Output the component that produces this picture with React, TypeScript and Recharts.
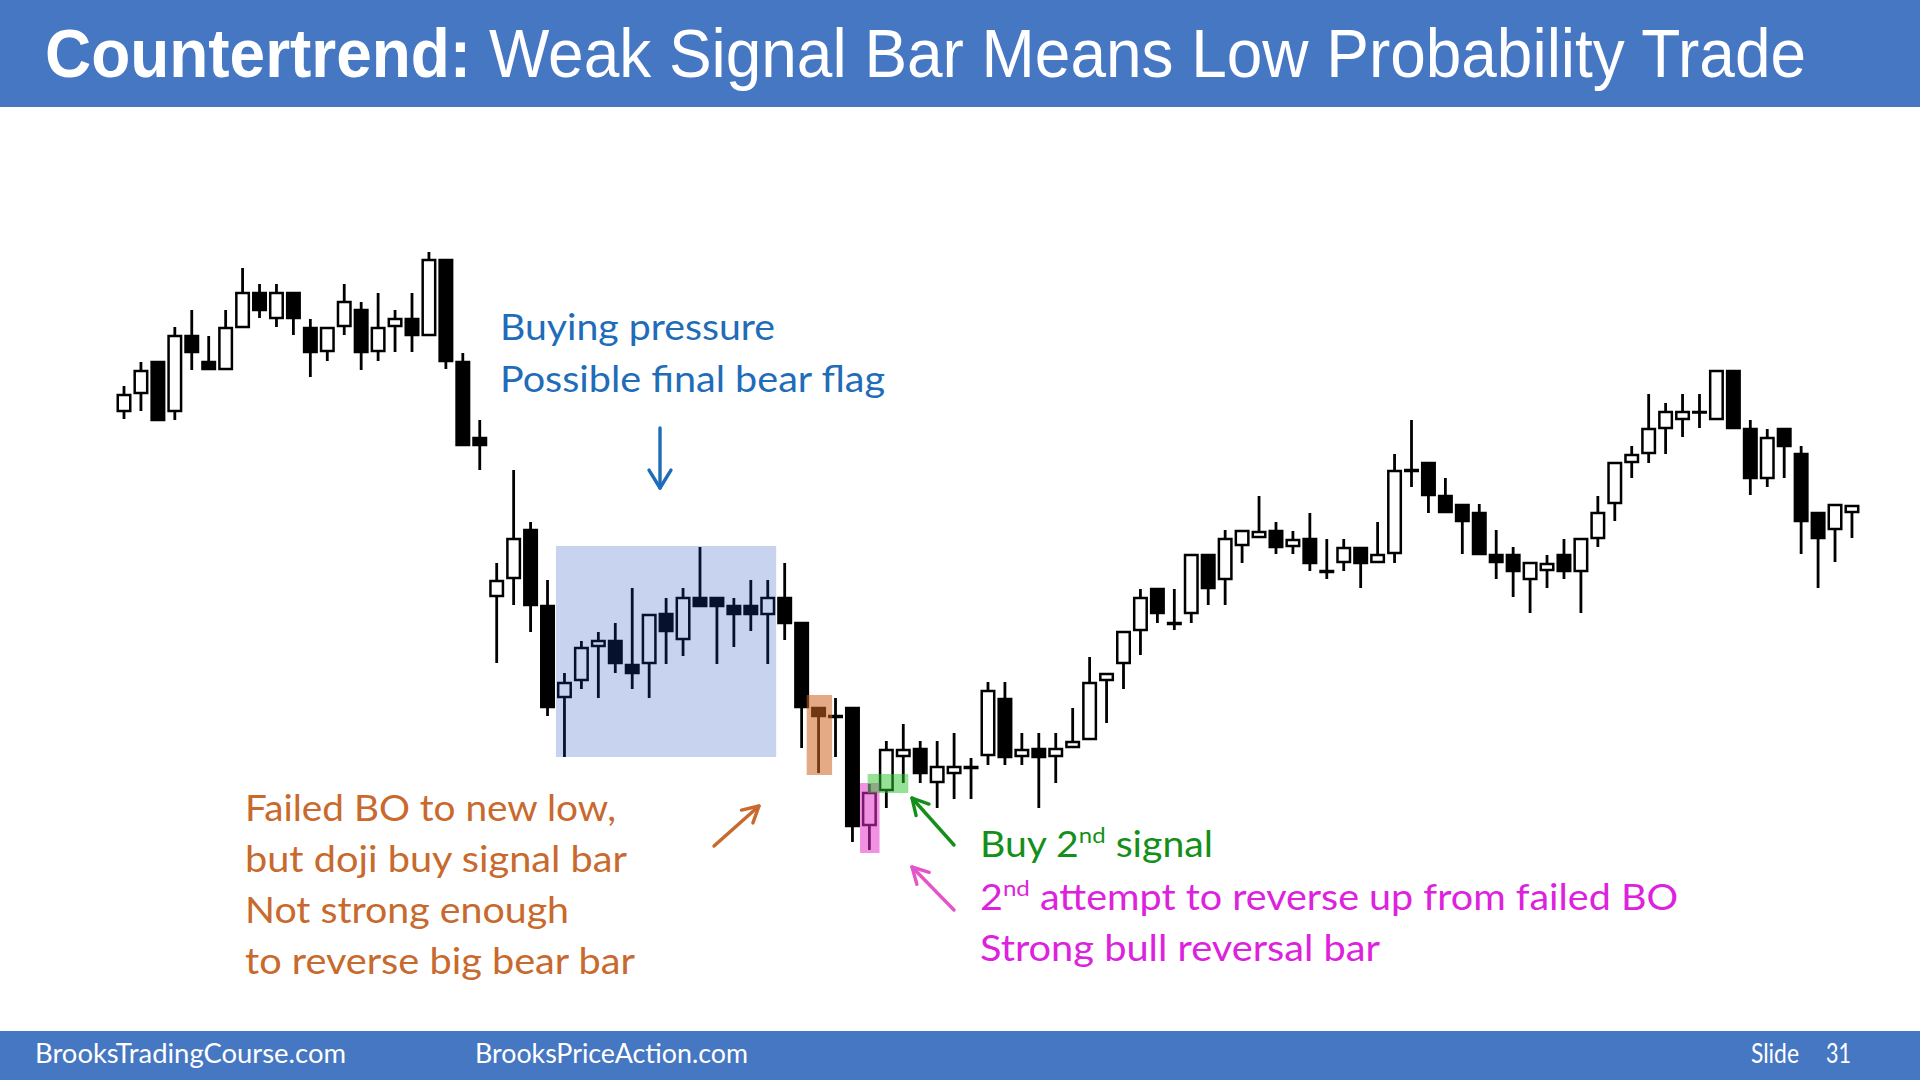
import { ComposedChart, Bar, XAxis, YAxis, ReferenceArea } from "recharts";

// OHLC, one entry per bar (bar 1 = far left)
const opens = [
  589, 607, 638, 589, 664, 638, 631, 673, 707, 682,
  707, 672, 649, 674, 690, 649, 674, 681, 665, 740,
  638, 562, 404, 422, 470, 394, 303, 320, 354, 359,
  335, 337, 386, 361, 402, 402, 394, 394, 386, 402,
  377, 292, 284, 292, 175, 210, 244, 251, 218, 227,
  232, 245, 301, 244, 251, 244, 253, 261, 320, 337,
  370, 411, 377, 387, 445, 421, 455, 463, 469, 454,
  461, 429, 438, 452, 438, 447, 529, 537, 504, 495,
  487, 445, 445, 421, 430, 445, 429, 462, 497, 538,
  547, 572, 581, 588, 581, 629, 571, 522, 571, 546,
  487, 471, 488,
];
const highs = [
  614, 638, 638, 673, 690, 664, 690, 732, 716, 716,
  707, 681, 672, 716, 698, 707, 690, 707, 748, 740,
  647, 580, 437, 530, 478, 420, 327, 359, 368, 377,
  412, 385, 402, 412, 453, 402, 402, 420, 420, 437,
  377, 292, 302, 292, 216, 259, 276, 259, 259, 267,
  242, 318, 318, 267, 267, 267, 292, 343, 326, 368,
  411, 411, 411, 445, 445, 470, 469, 504, 478, 469,
  487, 461, 461, 452, 478, 546, 580, 537, 522, 495,
  496, 470, 453, 437, 445, 461, 461, 504, 537, 554,
  606, 597, 606, 606, 629, 629, 580, 571, 571, 554,
  487, 495, 494,
];
const lows = [
  581, 589, 580, 580, 630, 631, 631, 673, 682, 673,
  665, 623, 639, 665, 630, 639, 648, 648, 665, 631,
  555, 530, 337, 395, 368, 284, 243, 311, 302, 327,
  311, 302, 336, 344, 394, 336, 353, 369, 336, 360,
  252, 227, 243, 158, 150, 192, 217, 217, 192, 201,
  201, 235, 235, 235, 192, 217, 253, 261, 277, 311,
  345, 377, 370, 377, 395, 395, 437, 463, 446, 446,
  429, 421, 429, 412, 438, 437, 513, 487, 488, 446,
  446, 421, 403, 387, 412, 421, 387, 453, 479, 522,
  537, 546, 563, 572, 581, 572, 505, 513, 522, 446,
  412, 438, 462,
];
const closes = [
  605, 629, 580, 664, 648, 631, 672, 707, 690, 707,
  682, 648, 672, 698, 648, 672, 681, 665, 740, 639,
  555, 555, 419, 461, 395, 293, 317, 352, 359, 337,
  327, 385, 369, 402, 394, 394, 386, 386, 402, 377,
  293, 284, 283, 174, 207, 250, 250, 227, 233, 233,
  233, 309, 243, 250, 243, 251, 258, 317, 326, 368,
  402, 387, 376, 445, 412, 461, 469, 468, 453, 460,
  437, 428, 452, 437, 445, 529, 530, 505, 488, 479,
  446, 438, 429, 437, 436, 429, 461, 487, 537, 545,
  571, 588, 588, 588, 629, 572, 522, 562, 554, 479,
  462, 495, 494,
];

const data = opens.map((o, k) => ({
  i: k + 1,
  o,
  h: highs[k],
  l: lows[k],
  c: closes[k],
}));

// highlight zones, in bar-index / price units
const zones = [
  { x1: 26.5, x2: 39.5, y1: 243, y2: 454, fill: "#1A45C0", opacity: 0.24 },
  { x1: 41.3, x2: 42.8, y1: 225, y2: 305, fill: "#CC6420", opacity: 0.55 },
  { x1: 44.45, x2: 45.6, y1: 147, y2: 217, fill: "#E22FC6", opacity: 0.53 },
  { x1: 44.9, x2: 47.3, y1: 207, y2: 226, fill: "#2CC42C", opacity: 0.5 },
];

const CandleShape = (props: any) => {
  const { x, y, width, height, payload } = props;
  if (!payload || height == null || isNaN(y)) return null;
  const top = Math.min(y, y + height);
  const span = Math.abs(height);
  const k = span / (payload.h - payload.l || 1);
  const cx = x + width / 2;
  const yo = top + (payload.h - payload.o) * k;
  const yc = top + (payload.h - payload.c) * k;
  const bull = payload.c >= payload.o;
  const bt = Math.min(yo, yc);
  const bh = Math.max(Math.abs(yo - yc), 0.5);
  return (
    <g>
      <line x1={cx} x2={cx} y1={top} y2={top + span} stroke="#000" strokeWidth={2.8} />
      <rect
        x={cx - 6.25}
        y={bt}
        width={12.5}
        height={bh}
        fill={bull ? "#fff" : "#000"}
        stroke="#000"
        strokeWidth={2.5}
      />
    </g>
  );
};

const Arrow = ({ x1, y1, x2, y2, color, len = 18, spread = 0.5 }: any) => {
  const a = Math.atan2(y2 - y1, x2 - x1);
  const w1 = [x2 - len * Math.cos(a - spread), y2 - len * Math.sin(a - spread)];
  const w2 = [x2 - len * Math.cos(a + spread), y2 - len * Math.sin(a + spread)];
  return (
    <g stroke={color} strokeWidth={3.4} fill="none" strokeLinecap="round" strokeLinejoin="round">
      <line x1={x1} y1={y1} x2={x2} y2={y2} />
      <polyline points={`${w1[0]},${w1[1]} ${x2},${y2} ${w2[0]},${w2[1]}`} />
    </g>
  );
};

const noteFont = "Lato, 'Open Sans', sans-serif";
const noteSize = 36;
const BLUE = "#1F6CB8";
const ORANGE = "#C8692D";
const GREEN = "#14901A";
const MAGENTA = "#DD22DD";

export default function App() {
  return (
    <div style={{ position: "absolute", left: 0, top: 0, width: 1920, height: 1080, background: "#fff", overflow: "hidden" }}>
      <div style={{ position: "absolute", left: 0, top: 0, width: 1920, height: 107, background: "#4677C2" }} />
      <div style={{ position: "absolute", left: 0, top: 1031, width: 1920, height: 49, background: "#4677C2" }} />

      <div style={{ position: "absolute", left: 0, top: 0 }}>
        <ComposedChart
          width={1920}
          height={1080}
          data={data}
          margin={{ top: 200, right: 59.6, bottom: 180, left: 115.5 }}
        >
          <XAxis dataKey="i" type="number" domain={[0.5, 103.5]} hide allowDataOverflow />
          <YAxis type="number" domain={[100, 800]} hide allowDataOverflow />
          <Bar
            dataKey={(d: any) => [d.l, d.h]}
            barSize={15}
            shape={(p: any) => <CandleShape {...p} />}
            isAnimationActive={false}
          />
          {zones.map((z, n) => (
            <ReferenceArea
              key={n}
              x1={z.x1}
              x2={z.x2}
              y1={z.y1}
              y2={z.y2}
              fill={z.fill}
              fillOpacity={z.opacity}
              stroke="none"
              zIndex={1000}
            />
          ))}
        </ComposedChart>
      </div>

      <svg
        width={1920}
        height={1080}
        style={{ position: "absolute", left: 0, top: 0, pointerEvents: "none" }}
      >
        <text
          x={45}
          y={77}
          fill="#fff"
          fontFamily="'Liberation Sans', Arial, sans-serif"
          fontSize={68}
          textLength={1761}
          lengthAdjust="spacingAndGlyphs"
        >
          <tspan fontWeight="bold">Countertrend:</tspan> Weak Signal Bar Means Low Probability Trade
        </text>

        <g fill="#fff" fontFamily={noteFont} fontSize={26}>
          <text x={35} y={1063} textLength={311} lengthAdjust="spacingAndGlyphs">BrooksTradingCourse.com</text>
          <text x={475} y={1063} textLength={273} lengthAdjust="spacingAndGlyphs">BrooksPriceAction.com</text>
          <text x={1751} y={1063} textLength={48} lengthAdjust="spacingAndGlyphs">Slide</text>
          <text x={1826} y={1063} textLength={25} lengthAdjust="spacingAndGlyphs">31</text>
        </g>

        <g fill={BLUE} fontFamily={noteFont} fontSize={noteSize}>
          <text x={500} y={340} textLength={275} lengthAdjust="spacingAndGlyphs">Buying pressure</text>
          <text x={500} y={392} textLength={385} lengthAdjust="spacingAndGlyphs">Possible final bear flag</text>
        </g>
        <Arrow x1={660} y1={428} x2={660} y2={488} color={BLUE} len={21} spread={0.55} />

        <g fill={ORANGE} fontFamily={noteFont} fontSize={noteSize}>
          <text x={245} y={821} textLength={371} lengthAdjust="spacingAndGlyphs">Failed BO to new low,</text>
          <text x={245} y={872} textLength={382} lengthAdjust="spacingAndGlyphs">but doji buy signal bar</text>
          <text x={245} y={923} textLength={324} lengthAdjust="spacingAndGlyphs">Not strong enough</text>
          <text x={245} y={974} textLength={390} lengthAdjust="spacingAndGlyphs">to reverse big bear bar</text>
        </g>
        <Arrow x1={714} y1={846} x2={759} y2={806} color={ORANGE} />

        <Arrow x1={954} y1={845} x2={912} y2={798} color={GREEN} />
        <Arrow x1={954} y1={910} x2={912} y2={867} color="#E455C8" />

        <text x={980} y={857} fill={GREEN} fontFamily={noteFont} fontSize={noteSize} textLength={233} lengthAdjust="spacingAndGlyphs">
          Buy 2<tspan fontSize={22} dy={-14}>nd</tspan>
          <tspan dy={14}> signal</tspan>
        </text>
        <text x={980} y={910} fill={MAGENTA} fontFamily={noteFont} fontSize={noteSize} textLength={698} lengthAdjust="spacingAndGlyphs">
          2<tspan fontSize={22} dy={-14}>nd</tspan>
          <tspan dy={14}> attempt to reverse up from failed BO</tspan>
        </text>
        <text x={980} y={961} fill={MAGENTA} fontFamily={noteFont} fontSize={noteSize} textLength={400} lengthAdjust="spacingAndGlyphs">
          Strong bull reversal bar
        </text>
      </svg>
    </div>
  );
}
